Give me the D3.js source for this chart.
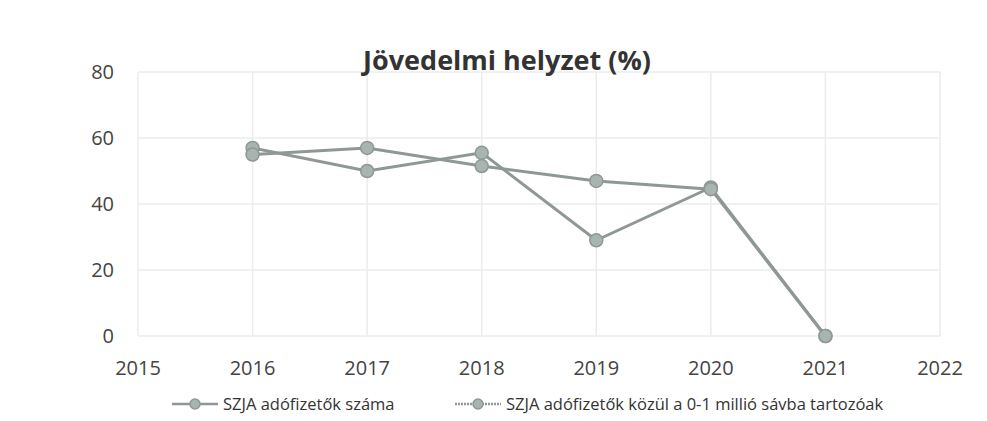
<!DOCTYPE html>
<html>
<head>
<meta charset="utf-8">
<title>Jövedelmi helyzet</title>
<script src="https://cdn.jsdelivr.net/npm/d3@7"></script>
<style>
  body { margin: 0; background: #fff; }
  text { font-family: "Open Sans", "Noto Sans", sans-serif; }
</style>
</head>
<body>
<script>
const width = 987
const height = 421
const margin = { top: 72, right: 47, bottom: 85, left: 138 }

// adatok
const years = [2016, 2017, 2018, 2019, 2020, 2021]
const szama = [55, 57, 51.5, 47, 44.5, 0]
const savba = [57, 50, 55.5, 29, 45, 0]
const yTickValues = [0, 20, 40, 60, 80]
const xTickValues = [2015, 2016, 2017, 2018, 2019, 2020, 2021, 2022]
const seriesNames = ['SZJA adófizetők száma', 'SZJA adófizetők közül a 0-1 millió sávba tartozóak']

const svg = d3.select('body').append('svg')
  .attr('width', width)
  .attr('height', height)

const x = d3.scaleLinear()
  .domain([2015, 2022])
  .range([margin.left, width - margin.right])

const y = d3.scaleLinear()
  .domain([0, 80])
  .range([height - margin.bottom, margin.top])

// rács
svg.append('g')
  .selectAll('line.h')
  .data(yTickValues)
  .join('line')
  .attr('x1', x(2015)).attr('x2', x(2022))
  .attr('y1', d => y(d)).attr('y2', d => y(d))
  .attr('stroke', '#ececec')
  .attr('stroke-width', 1.5)

svg.append('g')
  .selectAll('line.v')
  .data(xTickValues)
  .join('line')
  .attr('x1', d => x(d)).attr('x2', d => x(d))
  .attr('y1', y(80)).attr('y2', y(0))
  .attr('stroke', '#ececec')
  .attr('stroke-width', 1.5)

// tengelyfeliratok
svg.append('g')
  .selectAll('text')
  .data(yTickValues)
  .join('text')
  .attr('x', 114)
  .attr('y', d => y(d))
  .attr('dy', '0.35em')
  .attr('text-anchor', 'end')
  .attr('font-size', 20)
  .attr('fill', '#444')
  .text(d => d)

svg.append('g')
  .selectAll('text')
  .data(xTickValues)
  .join('text')
  .attr('x', d => x(d))
  .attr('y', 375)
  .attr('text-anchor', 'middle')
  .attr('font-size', 20)
  .attr('fill', '#444')
  .text(d => d)

// cím
svg.append('text')
  .attr('x', 507)
  .attr('y', 70)
  .attr('text-anchor', 'middle')
  .attr('font-size', 27)
  .attr('font-weight', 'bold')
  .attr('fill', '#333')
  .text('Jövedelmi helyzet (%)')

// vonalak
const line = d3.line()
  .x((d, i) => x(years[i]))
  .y(d => y(d))

const lineColor = '#8f9894'
const markFill = '#a7b4af'

;[savba, szama].forEach(s => {
  svg.append('path')
    .datum(s)
    .attr('d', line)
    .attr('fill', 'none')
    .attr('stroke', lineColor)
    .attr('stroke-width', 3)
})

;[savba, szama].forEach(s => {
  svg.append('g')
    .selectAll('circle')
    .data(s)
    .join('circle')
    .attr('cx', (d, i) => x(years[i]))
    .attr('cy', d => y(d))
    .attr('r', 6.5)
    .attr('fill', markFill)
    .attr('stroke', lineColor)
    .attr('stroke-width', 1.5)
})

// jelmagyarázat
const legendX = [172, 455]
seriesNames.forEach((name, i) => {
  const g = svg.append('g').attr('transform', `translate(${legendX[i]},404)`)
  g.append('line')
    .attr('x1', 0).attr('x2', 46)
    .attr('stroke', lineColor)
    .attr('stroke-width', 2.5)
    .attr('stroke-dasharray', i === 0 ? null : '2,1')
  g.append('circle')
    .attr('cx', 23).attr('r', 5)
    .attr('fill', markFill)
    .attr('stroke', lineColor)
    .attr('stroke-width', 1.5)
  g.append('text')
    .attr('x', 51)
    .attr('dy', '0.35em')
    .attr('font-size', 16.5)
    .attr('fill', '#333')
    .text(name)
})
</script>
</body>
</html>
